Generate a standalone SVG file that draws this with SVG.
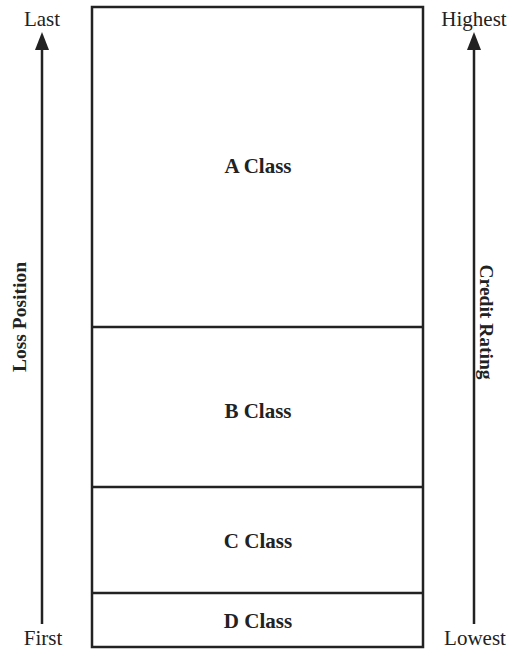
<svg xmlns="http://www.w3.org/2000/svg" width="510" height="651" viewBox="0 0 510 651">
  <style>
    .frame { fill: none; stroke: #222; stroke-width: 2.5; }
    .axis { stroke: #222; stroke-width: 2.5; fill: none; }
    .lbl { font-family: "Liberation Serif", "Times New Roman", serif; font-size: 21px; fill: #222; text-anchor: middle; }
    .cls { font-weight: bold; font-size: 21px; }
    .side { font-weight: bold; font-size: 19.5px; }
  </style>
  <defs>
    <!-- arrowhead: base sits on the line end, tip points along the line -->
    <marker id="head" viewBox="0 0 18 14" refX="0" refY="7" markerWidth="18" markerHeight="14" markerUnits="userSpaceOnUse" orient="auto">
      <path d="M0 0 L18 7 L0 14 Z" fill="#222"/>
    </marker>
  </defs>

  <!-- tranche stack -->
  <g id="tranches">
    <rect class="frame" x="92" y="7" width="331" height="640"/>
    <line class="frame" x1="92" y1="327" x2="423" y2="327"/>
    <line class="frame" x1="92" y1="487" x2="423" y2="487"/>
    <line class="frame" x1="92" y1="593" x2="423" y2="593"/>
  </g>
  <g id="a-class"><text class="lbl cls" x="258" y="173">A Class</text></g>
  <g id="b-class"><text class="lbl cls" x="258" y="418">B Class</text></g>
  <g id="c-class"><text class="lbl cls" x="258" y="548">C Class</text></g>
  <g id="d-class"><text class="lbl cls" x="258" y="628">D Class</text></g>

  <!-- side axes -->
  <g id="connectors">
    <line class="axis" x1="42" y1="624" x2="42" y2="50" marker-end="url(#head)"/>
    <line class="axis" x1="474" y1="624" x2="474" y2="50" marker-end="url(#head)"/>
  </g>

  <g id="loss-axis">
    <text class="lbl" x="42" y="26">Last</text>
    <text class="lbl" x="43" y="645">First</text>
    <text class="lbl side" transform="translate(26 317) rotate(-90)">Loss Position</text>
  </g>
  <g id="rating-axis">
    <text class="lbl" x="474" y="26">Highest</text>
    <text class="lbl" x="475" y="645">Lowest</text>
    <text class="lbl side" transform="translate(480 322) rotate(90)">Credit Rating</text>
  </g>
</svg>
